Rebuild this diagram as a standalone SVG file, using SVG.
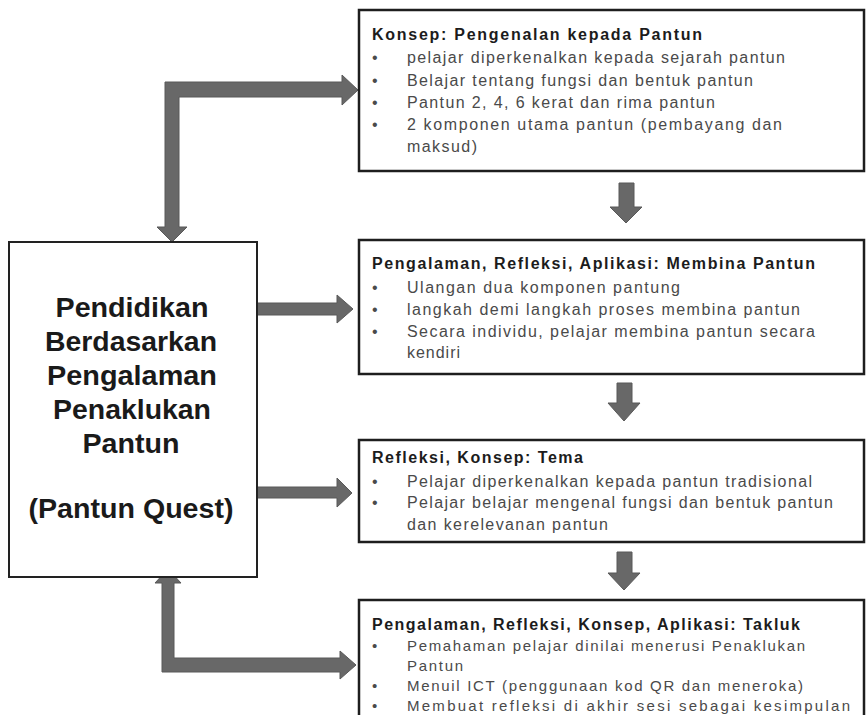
<svg xmlns="http://www.w3.org/2000/svg" width="866" height="715" viewBox="0 0 866 715">
<style>
.box{fill:#fff;stroke:#1e1e1e;stroke-width:2.5}
.main{fill:#fff;stroke:#222;stroke-width:2}
.arr{fill:#686868;stroke:#595959;stroke-width:1}
.t{font-family:"Liberation Sans",Arial,sans-serif;font-size:16px;font-weight:bold;fill:#1c1c1c}
.b{font-family:"Liberation Sans",Arial,sans-serif;font-size:16px;fill:#4a4a4a}
.s{font-size:15px}
.m{font-family:"Liberation Sans",Arial,sans-serif;font-size:28px;font-weight:bold;fill:#1a1a1a;text-anchor:middle}
</style>
<rect width="866" height="715" fill="#fff"/>
<g id="connectors">
<path class="arr" d="M165,82 H342 V75 L358,90 L342,105 V97 H179 V227 H187 L172,242 L157,227 H165 Z"/>
<path class="arr" d="M257,303 H337 V295 L353,309 L337,323 V315 H257 Z"/>
<path class="arr" d="M257,487 H337 V478 L352,493 L337,507 V498 H257 Z"/>
<path class="arr" d="M162,672 V583 H155 L168,569 L181,583 H174 V658 H340 V651 L356,665 L340,679 V672 Z"/>
<path class="arr" d="M619,183 H634 V207 H642 L626,223 L610,207 H619 Z"/>
<path class="arr" d="M617,383 H632 V403 H640 L624,421 L608,403 H617 Z"/>
<path class="arr" d="M617,552 H632 V573 H640 L624,590 L608,573 H617 Z"/>
</g>
<g id="main">
<rect class="main" x="9" y="242" width="248" height="335"/>
<text class="m" x="132" y="317" textLength="153" lengthAdjust="spacingAndGlyphs">Pendidikan</text>
<text class="m" x="131" y="351" textLength="172" lengthAdjust="spacingAndGlyphs">Berdasarkan</text>
<text class="m" x="132" y="385" textLength="170" lengthAdjust="spacingAndGlyphs">Pengalaman</text>
<text class="m" x="132" y="419" textLength="158" lengthAdjust="spacingAndGlyphs">Penaklukan</text>
<text class="m" x="131" y="453" textLength="97" lengthAdjust="spacingAndGlyphs">Pantun</text>
<text class="m" x="131" y="518" textLength="205" lengthAdjust="spacingAndGlyphs">(Pantun Quest)</text>
</g>
<g id="box1">
<rect class="box" x="359" y="10" width="505" height="161"/>
<text class="t" x="372" y="40" textLength="330" lengthAdjust="spacing">Konsep: Pengenalan kepada Pantun</text>
<text class="b" x="372" y="63">•</text>
<text class="b" x="407" y="63" textLength="378" lengthAdjust="spacing">pelajar diperkenalkan kepada sejarah pantun</text>
<text class="b" x="372" y="86">•</text>
<text class="b" x="407" y="86" textLength="346" lengthAdjust="spacing">Belajar tentang fungsi dan bentuk pantun</text>
<text class="b" x="372" y="108">•</text>
<text class="b" x="407" y="108" textLength="308" lengthAdjust="spacing">Pantun 2, 4, 6 kerat dan rima pantun</text>
<text class="b" x="372" y="130">•</text>
<text class="b" x="407" y="130" textLength="375" lengthAdjust="spacing">2 komponen utama pantun (pembayang dan</text>
<text class="b" x="407" y="152" textLength="70" lengthAdjust="spacing">maksud)</text>
</g>
<g id="box2">
<rect class="box" x="359" y="240" width="505" height="134"/>
<text class="t" x="372" y="269" textLength="443" lengthAdjust="spacing">Pengalaman, Refleksi, Aplikasi: Membina Pantun</text>
<text class="b" x="372" y="293">•</text>
<text class="b" x="407" y="293" textLength="273" lengthAdjust="spacing">Ulangan dua komponen pantung</text>
<text class="b" x="372" y="315">•</text>
<text class="b" x="407" y="315" textLength="393" lengthAdjust="spacing">langkah demi langkah proses membina pantun</text>
<text class="b" x="372" y="337">•</text>
<text class="b" x="407" y="337" textLength="408" lengthAdjust="spacing">Secara individu, pelajar membina pantun secara</text>
<text class="b" x="407" y="358" textLength="53" lengthAdjust="spacing">kendiri</text>
</g>
<g id="box3">
<rect class="box" x="359" y="440" width="505" height="102"/>
<text class="t" x="372" y="463" textLength="211" lengthAdjust="spacing">Refleksi, Konsep: Tema</text>
<text class="b" x="372" y="487">•</text>
<text class="b" x="407" y="487" textLength="405" lengthAdjust="spacing">Pelajar diperkenalkan kepada pantun tradisional</text>
<text class="b" x="372" y="508">•</text>
<text class="b" x="407" y="508" textLength="426" lengthAdjust="spacing">Pelajar belajar mengenal fungsi dan bentuk pantun</text>
<text class="b" x="407" y="530" textLength="201" lengthAdjust="spacing">dan kerelevanan pantun</text>
</g>
<g id="box4">
<rect class="box" x="359" y="600" width="505" height="130"/>
<text class="t" x="372" y="630" textLength="428" lengthAdjust="spacing">Pengalaman, Refleksi, Konsep, Aplikasi: Takluk</text>
<text class="b s" x="372" y="651">•</text>
<text class="b s" x="407" y="651" textLength="398" lengthAdjust="spacing">Pemahaman pelajar dinilai menerusi Penaklukan</text>
<text class="b s" x="407" y="671" textLength="56" lengthAdjust="spacing">Pantun</text>
<text class="b s" x="372" y="691">•</text>
<text class="b s" x="407" y="691" textLength="396" lengthAdjust="spacing">Menuil ICT (penggunaan kod QR dan meneroka)</text>
<text class="b s" x="372" y="711">•</text>
<text class="b s" x="407" y="711" textLength="443" lengthAdjust="spacing">Membuat refleksi di akhir sesi sebagai kesimpulan</text>
</g>
</svg>
